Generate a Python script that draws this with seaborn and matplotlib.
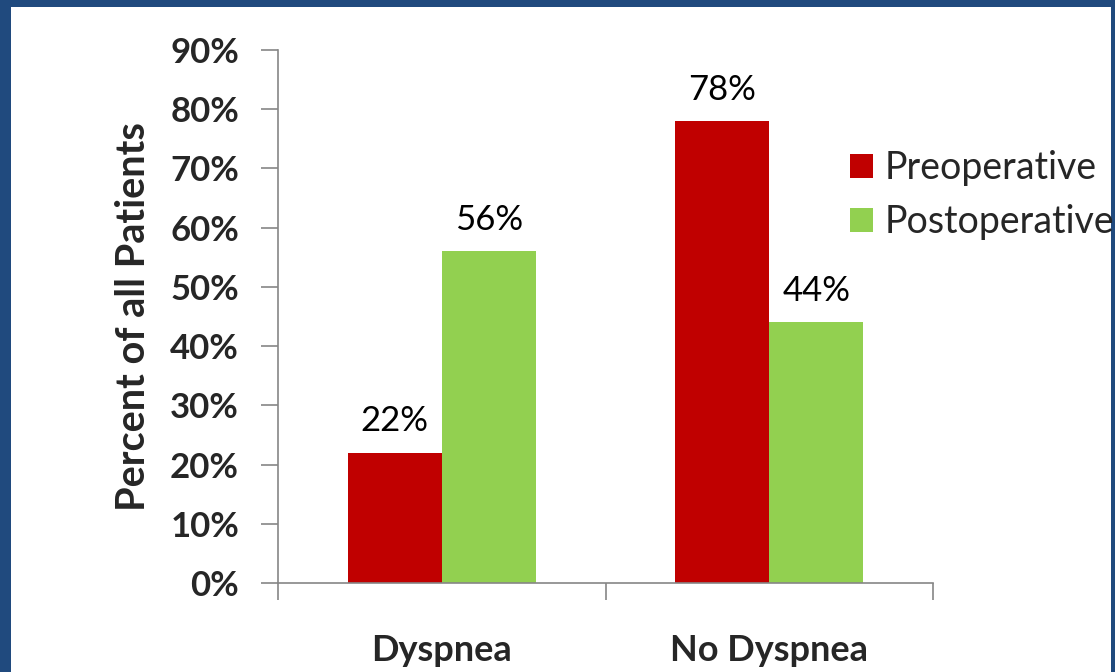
import matplotlib
matplotlib.use("Agg")
import matplotlib.pyplot as plt
import matplotlib.patches as mpatches
import seaborn as sns
import pandas as pd

categories = ["Dyspnea", "No Dyspnea"]
series = ["Preoperative", "Postoperative"]
preoperative = [22, 78]
postoperative = [56, 44]
yticks = [0, 10, 20, 30, 40, 50, 60, 70, 80, 90]

df = pd.DataFrame({
    "category": categories * 2,
    "series": [series[0]] * 2 + [series[1]] * 2,
    "value": preoperative + postoperative,
})

sns.set_style("white")
plt.rcParams["font.family"] = ["Lato", "DejaVu Sans"]

W, H = 1115, 672
fig = plt.figure(figsize=(W / 100, H / 100), dpi=100, facecolor="#204a7e")
fig.patches.append(mpatches.Rectangle((11 / W, 0), (1111 - 11) / W, (H - 7) / H,
                                      transform=fig.transFigure, facecolor="white",
                                      edgecolor="none", zorder=-10))
ax = fig.add_axes([278 / W, (H - 583) / H, (933 - 278) / W, (583 - 50) / H])
ax.set_zorder(5)
ax.set_facecolor("none")

palette = {"Preoperative": "#c00000", "Postoperative": "#92d050"}
sns.barplot(data=df, x="category", y="value", hue="series", hue_order=series,
            order=categories, palette=palette, width=0.573, saturation=1,
            linewidth=0, edgecolor="none", ax=ax, legend=True)

for c in ax.containers:
    ax.bar_label(c, labels=[f"{v:.0f}%" for v in c.datavalues], padding=11,
                 fontsize=25, color="black")

ax.set_xlim(-0.5, 1.5)
ax.set_ylim(0, 90)
ax.set_yticks(yticks)
ax.set_yticklabels([f"{t}%" for t in yticks], fontsize=25, fontweight="bold")
ax.set_xticks([0, 1])
ax.set_xticklabels(categories, fontsize=26, fontweight="bold")
ax.set_xticks([-0.5, 0.5, 1.5], minor=True)
ax.tick_params(axis="x", which="major", length=0, pad=37, bottom=True)
ax.tick_params(axis="x", which="minor", length=12, width=1.2, color="#868686",
               direction="out", bottom=True)
ax.tick_params(axis="y", length=12, width=1.2, color="#868686", direction="out",
               left=True, pad=16)
ax.set_xlabel("")
ax.set_ylabel("Percent of all Patients", fontsize=28.5, fontweight="bold", labelpad=13)

for s in ["top", "right"]:
    ax.spines[s].set_visible(False)
for s in ["left", "bottom"]:
    ax.spines[s].set_color("#868686")
    ax.spines[s].set_linewidth(1.2)

handles, labels = ax.get_legend_handles_labels()
ax.legend(handles, labels, loc="center left", bbox_to_anchor=(850 / W, (H - 195) / H),
          bbox_transform=fig.transFigure, frameon=False, fontsize=27,
          handlelength=0.6, handleheight=0.6, handletextpad=0.33, labelspacing=0.47,
          borderaxespad=0, borderpad=0)

fig.savefig("out.png", dpi=100, facecolor=fig.get_facecolor())
